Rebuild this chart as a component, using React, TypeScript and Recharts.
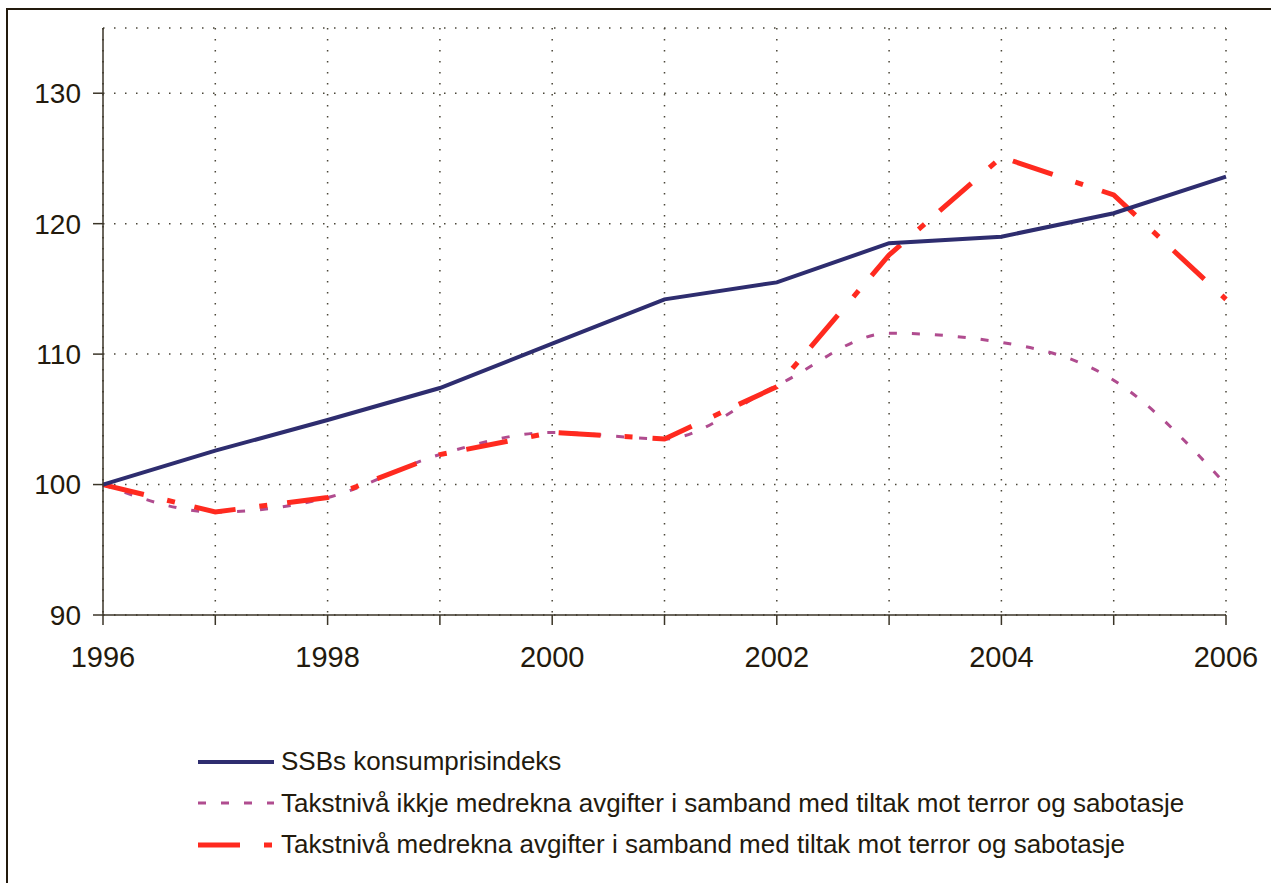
import React from 'react';
import { LineChart, Line, XAxis, YAxis, CartesianGrid, Legend } from 'recharts';

const years = [1996, 1997, 1998, 1999, 2000, 2001, 2002, 2003, 2004, 2005, 2006];
const ssbKpi = [100, 102.6, 104.95, 107.4, 110.8, 114.2, 115.5, 118.5, 119.0, 120.8, 123.6];
const takstUtan = [100, 97.9, 99.0, 102.3, 104.0, 103.5, 107.6, 111.6, 110.9, 108.0, 100.0];
const takstMed = [100, 97.9, 99.0, 102.3, 104.0, 103.5, 107.5, 117.6, 125.1, 122.2, 114.2];
const yTicks = [90, 100, 110, 120, 130];
const seriesNames = [
  'SSBs konsumprisindeks',
  'Takstnivå ikkje medrekna avgifter i samband med tiltak mot terror og sabotasje',
  'Takstnivå medrekna avgifter i samband med tiltak mot terror og sabotasje',
];

const data = years.map((y, i) => ({ year: y, ssb: ssbKpi[i], utan: takstUtan[i], med: takstMed[i] }));

const FONT = '"Liberation Sans", Arial, sans-serif';
const TXT = '#231a0d';
const NAVY = '#2e2d6f';
const MAGENTA = '#b04c8f';
const RED = '#ff2a1f';
const AXIS = '#3b3528';

const legendItems = [
  { name: seriesNames[0], color: NAVY, width: 4, dash: undefined as string | undefined },
  { name: seriesNames[1], color: MAGENTA, width: 3, dash: '8 15' },
  { name: seriesNames[2], color: RED, width: 5, dash: '42 24 8 20' },
];

const renderLegend = () => (
  <div style={{ fontFamily: FONT, fontSize: 26, color: TXT }}>
    {legendItems.map((it, i) => (
      <div key={i} style={{ display: 'flex', alignItems: 'center', height: 41.5 }}>
        <svg width={80} height={12} style={{ display: 'block' }}>
          <line x1={0} y1={6} x2={76} y2={6} stroke={it.color} strokeWidth={it.width} strokeDasharray={it.dash} />
        </svg>
        <span style={{ marginLeft: 3, whiteSpace: 'nowrap' }}>{it.name}</span>
      </div>
    ))}
  </div>
);

export default function App() {
  return (
    <div style={{ position: 'absolute', left: 0, top: 0, width: 1271, height: 883, overflow: 'hidden', background: '#fff' }}>
      <div style={{ position: 'absolute', left: 6, top: 8, width: 1300, height: 900, border: `2px solid ${TXT}` }} />
      <div style={{ position: 'absolute', left: 0, top: 0 }}>
        <LineChart width={1271} height={883} data={data} margin={{ top: 28, right: 45, bottom: 218, left: 43 }}>
          <CartesianGrid stroke="#4a4638" strokeWidth={1.5} strokeDasharray="1.5 9.5" />
          <XAxis
            dataKey="year"
            type="number"
            domain={[1996, 2006]}
            ticks={years}
            interval={0}
            height={50}
            tickSize={10}
            tickMargin={21}
            stroke={AXIS}
            strokeWidth={1.5}
            tick={{ fill: TXT, fontSize: 29, fontFamily: FONT }}
            tickFormatter={(v: number) => (v % 2 === 0 ? String(v) : '')}
          />
          <XAxis xAxisId="top" dataKey="year" type="number" domain={[1996, 2006]} orientation="top" height={0} tick={false} tickLine={false} stroke={AXIS} strokeWidth={1.5} />
          <YAxis
            type="number"
            domain={[90, 135]}
            ticks={yTicks}
            interval={0}
            width={60}
            tickSize={10}
            tickMargin={12}
            stroke={AXIS}
            strokeWidth={1.5}
            tick={{ fill: TXT, fontSize: 28, fontFamily: FONT }}
          />
          <YAxis yAxisId="right" orientation="right" domain={[90, 135]} width={0} tick={false} tickLine={false} stroke={AXIS} strokeWidth={1.5} />
          <Line dataKey="utan" name={seriesNames[1]} type="monotone" stroke={MAGENTA} strokeWidth={3} strokeDasharray="8 15" dot={false} isAnimationActive={false} />
          <Line dataKey="med" name={seriesNames[2]} type="linear" stroke={RED} strokeWidth={5} strokeDasharray="42 24 8 20" dot={false} isAnimationActive={false} />
          <Line dataKey="ssb" name={seriesNames[0]} type="linear" stroke={NAVY} strokeWidth={4} dot={false} isAnimationActive={false} />
          <Legend
            layout="vertical"
            align="center"
            verticalAlign="middle"
            content={renderLegend}
            wrapperStyle={{ position: 'absolute', left: 198, top: 741, width: 1050, height: 130 }}
          />
        </LineChart>
      </div>
    </div>
  );
}
